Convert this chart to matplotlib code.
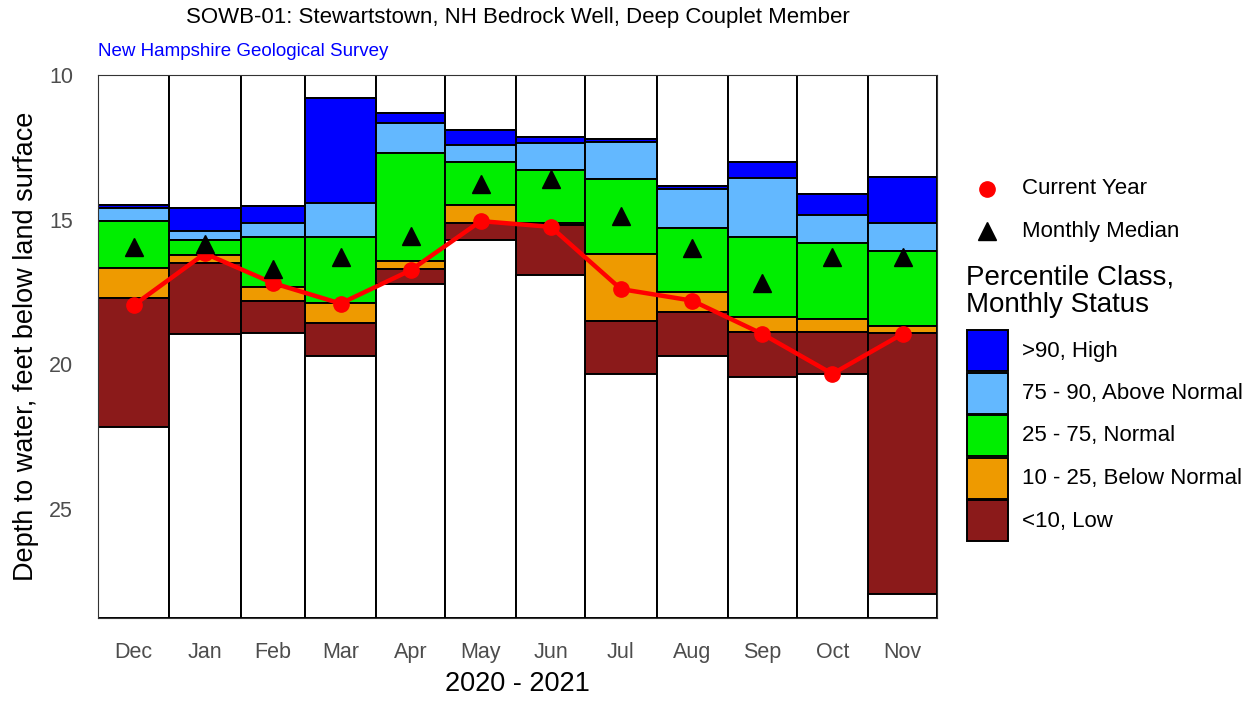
import numpy as np
import matplotlib
matplotlib.use("Agg")
import matplotlib.pyplot as plt
from matplotlib.patches import Rectangle
from matplotlib.lines import Line2D

plt.rcParams['font.family'] = ['Liberation Sans', 'DejaVu Sans']

# Data: depth to water (feet below land surface), shallow = high water
months = ['Dec', 'Jan', 'Feb', 'Mar', 'Apr', 'May', 'Jun', 'Jul', 'Aug', 'Sep', 'Oct', 'Nov']
days = [31, 31, 28, 31, 30, 31, 30, 31, 31, 30, 31, 30]
rec_max = [14.51, 14.60, 14.54, 10.80, 11.30, 11.90, 12.14, 12.20, 13.82, 13.02, 14.10, 13.54]
p90 = [14.60, 15.40, 15.10, 14.42, 11.67, 12.42, 12.35, 12.33, 13.93, 13.55, 14.85, 15.10]
p75 = [15.05, 15.70, 15.60, 15.60, 12.68, 13.00, 13.30, 13.60, 15.30, 15.60, 15.80, 16.10]
p25 = [16.67, 16.23, 17.33, 17.88, 16.42, 14.50, 15.10, 16.20, 17.50, 18.38, 18.45, 18.67]
p10 = [17.70, 16.50, 17.80, 18.58, 16.70, 15.10, 15.20, 18.50, 18.20, 18.90, 18.90, 18.93]
rec_min = [22.16, 18.95, 18.92, 19.72, 17.22, 15.72, 16.92, 20.33, 19.70, 20.43, 20.35, 27.93]
median = [15.95, 15.83, 16.72, 16.30, 15.56, 13.77, 13.58, 14.88, 15.99, 17.20, 16.30, 16.30]
current = [17.96, 16.17, 17.19, 17.90, 16.75, 15.05, 15.25, 17.40, 17.80, 18.95, 20.33, 18.95]

y_top, y_bottom = 10.0, 28.77

class_labels = ['>90, High', '75 - 90, Above Normal', '25 - 75, Normal',
                '10 - 25, Below Normal', '<10, Low']
class_colors = ['#0000FF', '#63B8FF', '#00EE00', '#EE9A00', '#8B1A1A']

left = np.concatenate([[0], np.cumsum(days)[:-1]])
centers = left + np.array(days) / 2

fig = plt.figure(figsize=(12.51, 7.02), dpi=100)
ax = fig.add_axes([98 / 1251, 84 / 702, 839 / 1251, 543 / 702])

bounds = [np.full(12, y_top), rec_max, p90, p75, p25, p10, rec_min, np.full(12, y_bottom)]
fills = ['white'] + class_colors + ['white']
for i, c in enumerate(fills):
    top = np.array(bounds[i])
    bot = np.array(bounds[i + 1])
    ax.bar(left, bot - top, bottom=top, width=days, align='edge',
           color=c, edgecolor='black', linewidth=1.4, zorder=2)

ax.plot(centers, current, color='red', lw=3.2, marker='o', ms=11, zorder=4)
ax.plot(centers, median, ls='none', marker='^', color='black', ms=13, zorder=5)

ax.set_xlim(0, sum(days))
ax.set_ylim(y_bottom, y_top)
ax.set_yticks([10, 15, 20, 25])
ax.set_xticks(centers)
ax.set_xticklabels(months)
ax.tick_params(axis='x', length=0, labelsize=15.5, colors='#4D4D4D', pad=17)
ax.tick_params(axis='y', length=0, labelsize=15.5, colors='#4D4D4D', pad=18)
for s in ax.spines.values():
    s.set_color('#333333')
    s.set_linewidth(0.8)
    s.set_zorder(6)
ax.set_xlabel('2020 - 2021', fontsize=19.5, labelpad=6)
ax.set_ylabel('Depth to water, feet below land surface', fontsize=19.5, labelpad=7)

fig.text(518 / 1251, 1 - 17 / 702, 'SOWB-01: Stewartstown, NH Bedrock Well, Deep Couplet Member',
         ha='center', va='center', fontsize=16)
fig.text(98 / 1251, 1 - 51 / 702, 'New Hampshire Geological Survey',
         ha='left', va='center', fontsize=13.5, color='blue')

# legend drawn in a pixel-coordinate overlay
lg = fig.add_axes([0, 0, 1, 1], facecolor='none')
lg.set_xlim(0, 1251)
lg.set_ylim(702, 0)
lg.axis('off')
lg.add_line(Line2D([987], [189], marker='o', color='red', ms=11, ls='none'))
lg.text(1022, 189, 'Current Year', va='center', fontsize=16)
lg.add_line(Line2D([987], [231], marker='^', color='black', ms=13, ls='none'))
lg.text(1022, 232, 'Monthly Median', va='center', fontsize=16)
lg.text(966, 291, 'Percentile Class,\nMonthly Status', va='center', fontsize=20, linespacing=1.05)
for i, (lab, c) in enumerate(zip(class_labels, class_colors)):
    y0 = 330 + i * 42.5
    lg.add_patch(Rectangle((967, y0), 41, 41, facecolor=c, edgecolor='black', lw=1.4))
    lg.text(1022, y0 + 21, lab, va='center', fontsize=16)

fig.savefig('out.png', dpi=100, facecolor='white')
